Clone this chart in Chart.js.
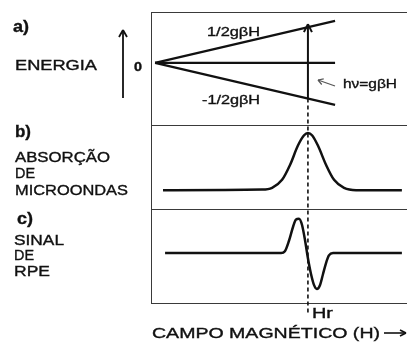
<!DOCTYPE html>
<html>
<head>
<meta charset="utf-8">
<script src="https://cdn.jsdelivr.net/npm/chart.js@4/dist/chart.umd.min.js"></script>
<style>
  html, body { margin: 0; padding: 0; background: #fff; }
  canvas { display: block; }
</style>
</head>
<body>
<canvas id="rpe" width="407" height="349"></canvas>
<script>
// campo magnético (unidades arbitrárias, 0..100 na largura do quadro)
const levelField = [1.6, 71.9];
const upperLevel = [0, 1];      // +1/2 gβH
const zeroLevel = [0, 0];
const lowerLevel = [0, -1];     // -1/2 gβH
const hr = 61.3;                // campo de ressonância
const transition = [-0.85, 0.85];

// b) absorção de microondas
const absField = [4.7, 43.4, 47.3, 51.2, 54.3, 57.4, 59.8, 61.3, 62.9, 65.2, 68.4, 71.5, 75.4, 80.1, 98.0];
const absValues = [0, 0.01, 0.04, 0.18, 0.44, 0.78, 0.96, 1.0, 0.96, 0.78, 0.44, 0.18, 0.04, 0, 0];

// c) sinal de RPE (primeira derivada)
const rpeField = [5.5, 50.8, 52.3, 53.9, 55.5, 56.6, 57.8, 59.0, 60.2, 61.3, 62.5, 63.7, 64.8, 66.0, 67.2, 68.4, 69.5, 71.1, 98.0];
const rpeValues = [0, 0, 0.05, 0.35, 0.75, 0.95, 0.98, 0.8, 0.35, -0.15, -0.6, -0.92, -1.03, -0.92, -0.6, -0.28, -0.07, 0, 0];

const pts = (xs, ys) => xs.map((x, i) => ({x: x, y: ys[i]}));

function line(data, axis, width) {
    return {
        data: data,
        yAxisID: axis,
        borderColor: '#111',
        borderWidth: width,
        pointRadius: 0,
        fill: false,
        tension: 0.4,
        cubicInterpolationMode: 'monotone'
    };
}

function fitText(ctx, str, x, yc, w, size, bold) {
    ctx.save();
    ctx.font = (bold ? 'bold ' : '') + size + 'px "Liberation Sans", Arial, sans-serif';
    const m = ctx.measureText(str).width;
    ctx.translate(x, yc + size * 0.36);
    ctx.scale(w / m, 1);
    ctx.fillStyle = '#111';
    ctx.strokeStyle = '#111';
    ctx.lineWidth = 0.35;
    ctx.textBaseline = 'alphabetic';
    ctx.fillText(str, 0, 0);
    ctx.strokeText(str, 0, 0);
    ctx.restore();
}

function arrowHead(ctx, x, y, angle, len, half) {
    ctx.save();
    ctx.translate(x, y);
    ctx.rotate(angle);
    ctx.beginPath();
    ctx.moveTo(0, 0);
    ctx.lineTo(-len, -half);
    ctx.moveTo(0, 0);
    ctx.lineTo(-len, half);
    ctx.stroke();
    ctx.restore();
}

const extras = {
    id: 'extras',
    afterDraw(chart) {
        const ctx = chart.ctx;
        const xs = chart.scales.x;
        const ya = chart.scales.ya, yb = chart.scales.yb, yc = chart.scales.yc;
        const area = chart.chartArea;

        // quadro
        ctx.save();
        ctx.strokeStyle = '#3a3a3a';
        ctx.lineWidth = 1;
        ctx.beginPath();
        [ya.top, ya.bottom, yb.bottom, yc.bottom].forEach(y => {
            ctx.moveTo(area.left, Math.round(y) + 0.5);
            ctx.lineTo(area.right, Math.round(y) + 0.5);
        });
        ctx.moveTo(area.left + 0.5, ya.top);
        ctx.lineTo(area.left + 0.5, yc.bottom);
        ctx.stroke();

        // linha tracejada em Hr
        const xh = xs.getPixelForValue(hr);
        ctx.strokeStyle = '#111';
        ctx.lineWidth = 1.6;
        ctx.setLineDash([4, 3]);
        ctx.beginPath();
        ctx.moveTo(xh, ya.getPixelForValue(transition[0]));
        ctx.lineTo(xh, yc.bottom + 12);
        ctx.stroke();
        ctx.setLineDash([]);

        // ponta da seta da transição
        ctx.lineWidth = 2;
        arrowHead(ctx, xh, ya.getPixelForValue(transition[1]) - 3, -Math.PI / 2, 8, 4);

        // seta de energia
        ctx.lineWidth = 1.8;
        ctx.beginPath();
        ctx.moveTo(123, 98);
        ctx.lineTo(123, 31);
        ctx.stroke();
        arrowHead(ctx, 123, 30, -Math.PI / 2, 7, 4);

        // seta indicadora de hν
        ctx.strokeStyle = '#555';
        ctx.lineWidth = 1.2;
        ctx.beginPath();
        ctx.moveTo(335, 86);
        ctx.lineTo(318, 80);
        ctx.stroke();
        arrowHead(ctx, 318, 80, Math.atan2(-6, -17), 5, 3);

        // seta do campo
        ctx.strokeStyle = '#111';
        ctx.lineWidth = 1.6;
        ctx.beginPath();
        ctx.moveTo(384, 333);
        ctx.lineTo(406, 333);
        ctx.stroke();
        arrowHead(ctx, 406, 333, 0, 6, 3);
        ctx.restore();

        // textos
        fitText(ctx, 'a)', 13, 26, 16, 16, true);
        fitText(ctx, 'ENERGIA', 15, 65, 82, 14, false);
        fitText(ctx, '0', 134, 67, 8, 12, true);
        fitText(ctx, '1/2gβH', 207, 31, 53, 13, false);
        fitText(ctx, '-1/2gβH', 202, 99, 58, 13, false);
        fitText(ctx, 'hν=gβH', 343, 83, 54, 13, false);
        fitText(ctx, 'b)', 15, 131, 16, 16, true);
        fitText(ctx, 'ABSORÇÃO', 15, 157, 95, 14, false);
        fitText(ctx, 'DE', 15, 173, 20, 14, false);
        fitText(ctx, 'MICROONDAS', 15, 190, 113, 14, false);
        fitText(ctx, 'c)', 17, 218, 16, 16, true);
        fitText(ctx, 'SINAL', 14, 240, 50, 14, false);
        fitText(ctx, 'DE', 14, 255, 20, 14, false);
        fitText(ctx, 'RPE', 14, 271, 36, 14, false);
        fitText(ctx, 'Hr', 312, 313, 21, 14, false);
        fitText(ctx, 'CAMPO MAGNÉTICO (H)', 152, 333, 228, 14, false);
    }
};

new Chart(document.getElementById('rpe'), {
    type: 'line',
    data: {
        datasets: [
            line(pts(levelField, upperLevel), 'ya', 2.2),
            line(pts(levelField, zeroLevel), 'ya', 2.2),
            line(pts(levelField, lowerLevel), 'ya', 2.2),
            line(pts([hr, hr], transition), 'ya', 2),
            line(pts(absField, absValues), 'yb', 2.5),
            line(pts(rpeField, rpeValues), 'yc', 2.5)
        ]
    },
    options: {
        responsive: false,
        animation: false,
        events: [],
        layout: { padding: { left: 151, top: 12, right: 0, bottom: 46 } },
        plugins: { legend: { display: false }, tooltip: { enabled: false } },
        scales: {
            x: { type: 'linear', min: 0, max: 100, display: false },
            yc: { type: 'linear', min: -1.43, max: 1.257, display: false, stack: 'panels', stackWeight: 94, position: 'left' },
            yb: { type: 'linear', min: -0.33, max: 1.14, display: false, stack: 'panels', stackWeight: 84, position: 'left' },
            ya: { type: 'linear', min: -1.48, max: 1.21, display: false, stack: 'panels', stackWeight: 113, position: 'left' }
        }
    },
    plugins: [extras]
});
</script>
</body>
</html>
